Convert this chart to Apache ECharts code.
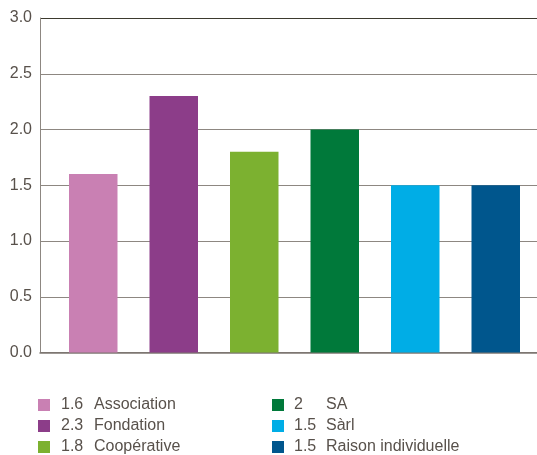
<!DOCTYPE html>
<html>
<head>
<meta charset="utf-8">
<script src="https://cdn.jsdelivr.net/npm/echarts@6/dist/echarts.min.js"></script>
<style>
html,body{margin:0;padding:0;background:#fff;}
#chart{width:537px;height:455px;}
</style>
</head>
<body>
<div id="chart"></div>
<script>
const categories = ['Association', 'Fondation', 'Coopérative', 'SA', 'Sàrl', 'Raison individuelle'];
const values = [1.6, 2.3, 1.8, 2, 1.5, 1.5];
const valueLabels = ['1.6', '2.3', '1.8', '2', '1.5', '1.5'];
const colors = ['#C980B3', '#8C3D89', '#7CB130', '#00793A', '#00ADE6', '#00568D'];
const yTicks = [0, 0.5, 1, 1.5, 2, 2.5, 3];

const textColor = '#58514b';
const font = '"Liberation Sans", Arial, Helvetica, sans-serif';

const series = categories.map((c, i) => ({
  name: c,
  type: 'bar',
  stack: 'all',
  xAxisIndex: 1,
  yAxisIndex: 1,
  barWidth: 48.5,
  itemStyle: { color: colors[i] },
  data: categories.map((_, j) => (j === i ? values[i] : '-'))
}));

function legendFmt(name) {
  const i = categories.indexOf(name);
  return '{g|}{v|' + valueLabels[i] + '}{n|' + name + '}';
}
function legendText(gap, vw) {
  return {
    color: textColor,
    fontFamily: font,
    fontSize: 16,
    rich: {
      g: { width: gap, fontSize: 16, fontFamily: font },
      v: { width: vw, fontSize: 16, color: textColor, fontFamily: font },
      n: { fontSize: 16, color: textColor, fontFamily: font }
    }
  };
}

const chart = echarts.init(document.getElementById('chart'), null, { renderer: 'canvas' });
chart.setOption({
  animation: false,
  backgroundColor: '#fff',
  grid: [
    { left: 40, right: 0, top: 18, bottom: 102.5, containLabel: false },
    { left: 53, right: 1, top: 18, bottom: 102.5, containLabel: false }
  ],
  xAxis: [
    {
      gridIndex: 0, type: 'category', data: categories,
      axisLine: { show: true, lineStyle: { color: '#7d7771', width: 1.5 } },
      axisTick: { show: false }, axisLabel: { show: false }, splitLine: { show: false }
    },
    {
      gridIndex: 1, type: 'category', data: categories,
      axisLine: { show: false }, axisTick: { show: false }, axisLabel: { show: false }, splitLine: { show: false }
    }
  ],
  yAxis: [
    {
      gridIndex: 0, type: 'value', min: yTicks[0], max: yTicks[yTicks.length - 1], interval: 0.5,
      axisLine: { show: true, lineStyle: { color: '#8d8781', width: 1 } },
      axisTick: { show: false },
      axisLabel: {
        margin: 8, color: textColor, fontSize: 16, fontFamily: font,
        formatter: v => v.toFixed(1)
      },
      splitLine: {
        show: true,
        lineStyle: { color: ['#7d7771', '#8d8781', '#8d8781', '#8d8781', '#8d8781', '#8d8781', '#3d3a2e'], width: 1 }
      }
    },
    {
      gridIndex: 1, type: 'value', min: yTicks[0], max: yTicks[yTicks.length - 1], interval: 0.5,
      show: false, splitLine: { show: false }
    }
  ],
  legend: [
    {
      data: categories.slice(0, 3), orient: 'vertical', left: 38, top: 397,
      itemWidth: 12, itemHeight: 12, itemGap: 5, icon: 'rect',
      padding: 0, selectedMode: false, formatter: legendFmt, textStyle: legendText(6, 33)
    },
    {
      data: categories.slice(3), orient: 'vertical', left: 272, top: 397,
      itemWidth: 12, itemHeight: 12, itemGap: 5, icon: 'rect',
      padding: 0, selectedMode: false, formatter: legendFmt, textStyle: legendText(5, 32)
    }
  ],
  series: series
});
</script>
</body>
</html>
